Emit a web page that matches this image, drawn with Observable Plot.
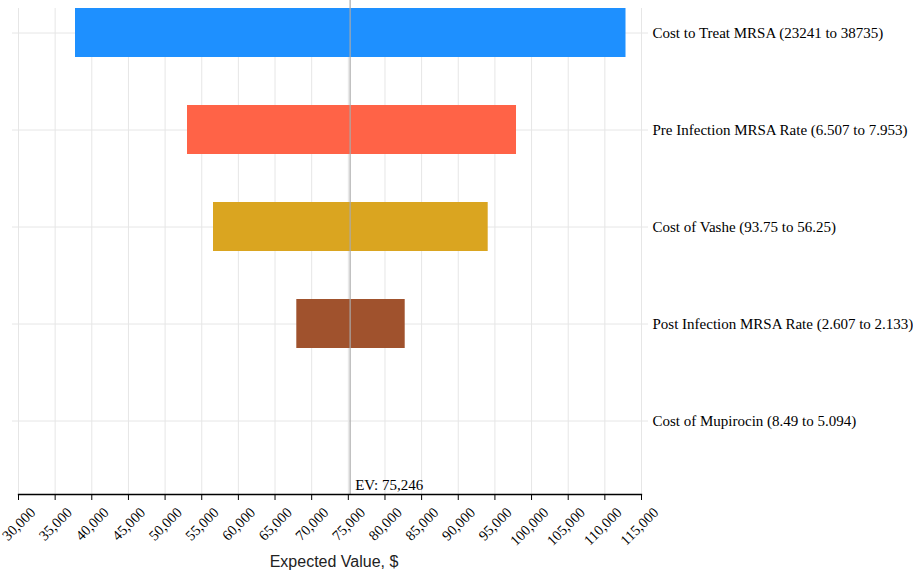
<!DOCTYPE html>
<html>
<head>
<meta charset="utf-8">
<script src="https://cdn.jsdelivr.net/npm/d3@7"></script>
<script src="https://cdn.jsdelivr.net/npm/@observablehq/plot@0.6"></script>
<style>
  html, body { margin: 0; padding: 0; background: #fff; }
  #chart svg { display: block; }
</style>
</head>
<body>
<div id="chart"></div>
<script>
const categories = [
  "Cost to Treat MRSA (23241 to 38735)",
  "Pre Infection MRSA Rate (6.507 to 7.953)",
  "Cost of Vashe (93.75 to 56.25)",
  "Post Infection MRSA Rate (2.607 to 2.133)",
  "Cost of Mupirocin (8.49 to 5.094)"
];
const lowValues  = [37777, 53058, 56605, 67971, 75246];
const highValues = [112886, 97946, 94084, 82760, 75246];
const barColors  = ["#1E90FF", "#FF6347", "#DAA520", "#A0522D", "#808080"];
const expectedValue = 75246;
const xTicks = [30000, 35000, 40000, 45000, 50000, 55000, 60000, 65000, 70000, 75000, 80000, 85000, 90000, 95000, 100000, 105000, 110000, 115000];
const xLabel = "Expected Value, $";

const rows = categories.map((c, i) => ({ name: c, low: lowValues[i], high: highValues[i], color: barColors[i] }));

const serif = "'Liberation Serif', 'DejaVu Serif', serif";
const sans = "'Liberation Sans', Arial, sans-serif";
const gridColor = "#e6e6e6";
const fmt = d3.format(",");

const chart = Plot.plot({
  width: 913,
  height: 572,
  marginLeft: 18,
  marginRight: 272,
  marginTop: 0,
  marginBottom: 78,
  style: { fontFamily: serif, fontSize: "15px", background: "#fff" },
  x: { domain: [30000, 115000] },
  y: { domain: categories, range: [8, 444.5], paddingInner: 0.5, paddingOuter: 0, label: null },
  marks: [
    Plot.ruleX(xTicks, { stroke: gridColor, strokeWidth: 1, insetTop: 8 }),
    Plot.gridY({ stroke: gridColor, strokeOpacity: 1 }),
    Plot.axisY({ anchor: "left", tickSize: 6, tickFormat: () => "", stroke: gridColor, label: null }),
    Plot.axisY({ anchor: "right", tickSize: 6, tickPadding: 5, stroke: gridColor, fill: "black", label: null, fontSize: 15, fontFamily: serif }),
    Plot.barX(rows, { y: "name", x1: "low", x2: "high", fill: "color" }),
    Plot.ruleX([expectedValue], { stroke: "#aaaaaa", strokeWidth: 1.2 }),
    Plot.text([expectedValue], { x: d => d, frameAnchor: "bottom", text: d => "EV: " + fmt(d), textAnchor: "start", lineAnchor: "bottom", dx: 5, dy: -5, fill: "black", fontSize: 15, fontFamily: serif }),
    Plot.frame({ anchor: "bottom", stroke: "black", strokeWidth: 1.3 }),
    Plot.axisX({ ticks: xTicks, tickSize: 6, tickFormat: () => "", stroke: "black", label: null }),
    Plot.text(xTicks, { x: d => d, frameAnchor: "bottom", text: d => fmt(d), rotate: -45, textAnchor: "end", lineAnchor: "middle", dx: 14.5, dy: 15.5, fill: "black", fontSize: 14.5, fontFamily: serif }),
    Plot.text([xLabel], { frameAnchor: "bottom", text: d => d, lineAnchor: "middle", dy: 67, dx: 4, fill: "#222", fontSize: 16, fontFamily: sans })
  ]
});
document.getElementById("chart").appendChild(chart);
</script>
</body>
</html>
